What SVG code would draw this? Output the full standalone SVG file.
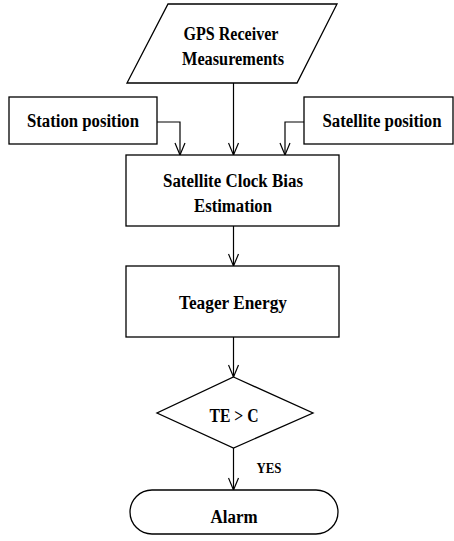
<svg xmlns="http://www.w3.org/2000/svg" width="454" height="541" viewBox="0 0 454 541">
  <style>
    .shape { fill: #ffffff; stroke: #000000; stroke-width: 1.3; }
    .wire { fill: none; stroke: #000000; stroke-width: 1.2; }
    .label { font-family: "Liberation Serif", "Times New Roman", serif; font-weight: bold; font-size: 18.5px; fill: #000000; text-anchor: middle; }
    .small { font-size: 14.5px; }
  </style>
  <defs>
    <marker id="open-arrow" markerWidth="14" markerHeight="12" refX="13" refY="6" orient="auto" markerUnits="userSpaceOnUse" viewBox="0 0 14 12">
      <path d="M1,1 L13,6 L1,11" fill="none" stroke="#000000" stroke-width="1.2"/>
    </marker>
  </defs>
  <rect width="454" height="541" fill="#ffffff"/>

  <!-- connectors -->
  <g id="connectors">
    <path class="wire" d="M233.5,83 V155" marker-end="url(#open-arrow)"/>
    <path class="wire" d="M157,122 H180 V155" marker-end="url(#open-arrow)"/>
    <path class="wire" d="M304,122 H285 V155" marker-end="url(#open-arrow)"/>
    <path class="wire" d="M233.5,226 V266" marker-end="url(#open-arrow)"/>
    <path class="wire" d="M233.5,337 V377" marker-end="url(#open-arrow)"/>
    <path class="wire" d="M233.5,448 V490" marker-end="url(#open-arrow)"/>
    <text class="label small" x="269" y="473" textLength="25" lengthAdjust="spacingAndGlyphs">YES</text>
  </g>

  <g id="gps-input">
    <polygon class="shape" points="168,4 337,4 297,83 127,83"/>
    <text class="label" x="231" y="40" textLength="95" lengthAdjust="spacingAndGlyphs">GPS Receiver</text>
    <text class="label" x="233" y="65" textLength="102" lengthAdjust="spacingAndGlyphs">Measurements</text>
  </g>

  <g id="station-position">
    <rect class="shape" x="9" y="97" width="148" height="47"/>
    <text class="label" x="83" y="127" textLength="112" lengthAdjust="spacingAndGlyphs">Station position</text>
  </g>

  <g id="satellite-position">
    <rect class="shape" x="304" y="97" width="149" height="47"/>
    <text class="label" x="382" y="127" textLength="119" lengthAdjust="spacingAndGlyphs">Satellite position</text>
  </g>

  <g id="clock-bias">
    <rect class="shape" x="126" y="155" width="213" height="71"/>
    <text class="label" x="233" y="187" textLength="140" lengthAdjust="spacingAndGlyphs">Satellite Clock Bias</text>
    <text class="label" x="233" y="212" textLength="78" lengthAdjust="spacingAndGlyphs">Estimation</text>
  </g>

  <g id="teager-energy">
    <rect class="shape" x="126" y="266" width="213" height="71"/>
    <text class="label" x="233" y="309" textLength="108" lengthAdjust="spacingAndGlyphs">Teager Energy</text>
  </g>

  <g id="threshold">
    <polygon class="shape" points="233.5,377 313,413 233.5,448 157,413"/>
    <text class="label" x="234" y="422" textLength="49" lengthAdjust="spacingAndGlyphs">TE &gt; C</text>
  </g>

  <g id="alarm">
    <rect class="shape" x="130" y="490" width="208" height="44" rx="22" ry="22"/>
    <text class="label" x="234" y="523" textLength="47" lengthAdjust="spacingAndGlyphs">Alarm</text>
  </g>
</svg>
